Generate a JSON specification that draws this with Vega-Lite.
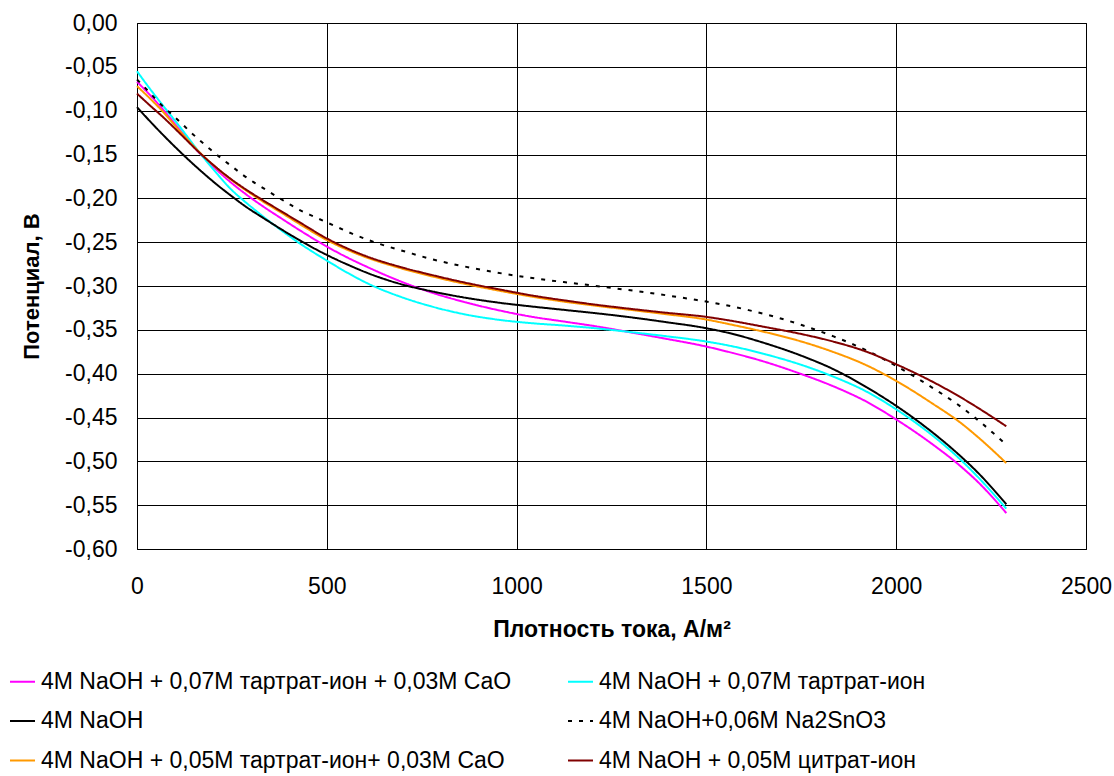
{
"$schema": "https://vega.github.io/schema/vega-lite/v6.json",
"width": 949, "height": 526,
"autosize": {"type": "none"},
"padding": {"left": 137, "top": 23, "right": 28, "bottom": 227},
"background": "#ffffff",
"config": {
  "font": "Liberation Sans",
  "locale": {"number": {"decimal": ",", "thousands": "", "grouping": [3], "currency": ["", ""], "minus": "-"}},
  "view": {"stroke": "#000000", "strokeWidth": 1}
},
"data": {"values": [
{"s":"4M NaOH + 0,07M тартрат-ион + 0,03M CaO","x":0,"v":-0.067},
{"s":"4M NaOH + 0,07M тартрат-ион + 0,03M CaO","x":34,"v":-0.082},
{"s":"4M NaOH + 0,07M тартрат-ион + 0,03M CaO","x":69,"v":-0.099},
{"s":"4M NaOH + 0,07M тартрат-ион + 0,03M CaO","x":113,"v":-0.122},
{"s":"4M NaOH + 0,07M тартрат-ион + 0,03M CaO","x":166,"v":-0.149},
{"s":"4M NaOH + 0,07M тартрат-ион + 0,03M CaO","x":210,"v":-0.1675},
{"s":"4M NaOH + 0,07M тартрат-ион + 0,03M CaO","x":245,"v":-0.181},
{"s":"4M NaOH + 0,07M тартрат-ион + 0,03M CaO","x":289,"v":-0.196},
{"s":"4M NaOH + 0,07M тартрат-ион + 0,03M CaO","x":333,"v":-0.2095},
{"s":"4M NaOH + 0,07M тартрат-ион + 0,03M CaO","x":377,"v":-0.222},
{"s":"4M NaOH + 0,07M тартрат-ион + 0,03M CaO","x":429,"v":-0.2365},
{"s":"4M NaOH + 0,07M тартрат-ион + 0,03M CaO","x":502,"v":-0.2555},
{"s":"4M NaOH + 0,07M тартрат-ион + 0,03M CaO","x":561,"v":-0.269},
{"s":"4M NaOH + 0,07M тартрат-ион + 0,03M CaO","x":605,"v":-0.278},
{"s":"4M NaOH + 0,07M тартрат-ион + 0,03M CaO","x":693,"v":-0.2945},
{"s":"4M NaOH + 0,07M тартрат-ион + 0,03M CaO","x":780,"v":-0.308},
{"s":"4M NaOH + 0,07M тартрат-ион + 0,03M CaO","x":868,"v":-0.3189},
{"s":"4M NaOH + 0,07M тартрат-ион + 0,03M CaO","x":956,"v":-0.328},
{"s":"4M NaOH + 0,07M тартрат-ион + 0,03M CaO","x":1036,"v":-0.3348},
{"s":"4M NaOH + 0,07M тартрат-ион + 0,03M CaO","x":1124,"v":-0.3405},
{"s":"4M NaOH + 0,07M тартрат-ион + 0,03M CaO","x":1212,"v":-0.3462},
{"s":"4M NaOH + 0,07M тартрат-ион + 0,03M CaO","x":1299,"v":-0.3528},
{"s":"4M NaOH + 0,07M тартрат-ион + 0,03M CaO","x":1387,"v":-0.3597},
{"s":"4M NaOH + 0,07M тартрат-ион + 0,03M CaO","x":1499,"v":-0.369},
{"s":"4M NaOH + 0,07M тартрат-ион + 0,03M CaO","x":1563,"v":-0.3757},
{"s":"4M NaOH + 0,07M тартрат-ион + 0,03M CaO","x":1651,"v":-0.3861},
{"s":"4M NaOH + 0,07M тартрат-ион + 0,03M CaO","x":1747,"v":-0.4},
{"s":"4M NaOH + 0,07M тартрат-ион + 0,03M CaO","x":1835,"v":-0.4145},
{"s":"4M NaOH + 0,07M тартрат-ион + 0,03M CaO","x":1922,"v":-0.432},
{"s":"4M NaOH + 0,07M тартрат-ион + 0,03M CaO","x":2001,"v":-0.4525},
{"s":"4M NaOH + 0,07M тартрат-ион + 0,03M CaO","x":2097,"v":-0.481},
{"s":"4M NaOH + 0,07M тартрат-ион + 0,03M CaO","x":2168,"v":-0.505},
{"s":"4M NaOH + 0,07M тартрат-ион + 0,03M CaO","x":2221,"v":-0.526},
{"s":"4M NaOH + 0,07M тартрат-ион + 0,03M CaO","x":2290,"v":-0.559},
{"s":"4M NaOH + 0,07M тартрат-ион","x":0,"v":-0.055},
{"s":"4M NaOH + 0,07M тартрат-ион","x":34,"v":-0.075},
{"s":"4M NaOH + 0,07M тартрат-ион","x":69,"v":-0.0945},
{"s":"4M NaOH + 0,07M тартрат-ион","x":113,"v":-0.1185},
{"s":"4M NaOH + 0,07M тартрат-ион","x":166,"v":-0.1485},
{"s":"4M NaOH + 0,07M тартрат-ион","x":210,"v":-0.1715},
{"s":"4M NaOH + 0,07M тартрат-ион","x":245,"v":-0.1885},
{"s":"4M NaOH + 0,07M тартрат-ион","x":289,"v":-0.2055},
{"s":"4M NaOH + 0,07M тартрат-ион","x":333,"v":-0.221},
{"s":"4M NaOH + 0,07M тартрат-ион","x":377,"v":-0.2355},
{"s":"4M NaOH + 0,07M тартрат-ион","x":429,"v":-0.2515},
{"s":"4M NaOH + 0,07M тартрат-ион","x":502,"v":-0.2715},
{"s":"4M NaOH + 0,07M тартрат-ион","x":561,"v":-0.2865},
{"s":"4M NaOH + 0,07M тартрат-ион","x":605,"v":-0.2965},
{"s":"4M NaOH + 0,07M тартрат-ион","x":693,"v":-0.3121},
{"s":"4M NaOH + 0,07M тартрат-ион","x":780,"v":-0.3238},
{"s":"4M NaOH + 0,07M тартрат-ион","x":868,"v":-0.3327},
{"s":"4M NaOH + 0,07M тартрат-ион","x":956,"v":-0.3387},
{"s":"4M NaOH + 0,07M тартрат-ион","x":1036,"v":-0.3423},
{"s":"4M NaOH + 0,07M тартрат-ион","x":1124,"v":-0.3451},
{"s":"4M NaOH + 0,07M тартрат-ион","x":1212,"v":-0.3484},
{"s":"4M NaOH + 0,07M тартрат-ион","x":1299,"v":-0.3525},
{"s":"4M NaOH + 0,07M тартрат-ион","x":1387,"v":-0.3569},
{"s":"4M NaOH + 0,07M тартрат-ион","x":1499,"v":-0.3633},
{"s":"4M NaOH + 0,07M тартрат-ион","x":1563,"v":-0.3683},
{"s":"4M NaOH + 0,07M тартрат-ион","x":1651,"v":-0.3774},
{"s":"4M NaOH + 0,07M тартрат-ион","x":1747,"v":-0.3895},
{"s":"4M NaOH + 0,07M тартрат-ион","x":1835,"v":-0.4035},
{"s":"4M NaOH + 0,07M тартрат-ион","x":1922,"v":-0.4205},
{"s":"4M NaOH + 0,07M тартрат-ион","x":2001,"v":-0.441},
{"s":"4M NaOH + 0,07M тартрат-ион","x":2097,"v":-0.471},
{"s":"4M NaOH + 0,07M тартрат-ион","x":2168,"v":-0.4975},
{"s":"4M NaOH + 0,07M тартрат-ион","x":2221,"v":-0.5205},
{"s":"4M NaOH + 0,07M тартрат-ион","x":2290,"v":-0.554},
{"s":"4M NaOH","x":0,"v":-0.096},
{"s":"4M NaOH","x":34,"v":-0.112},
{"s":"4M NaOH","x":69,"v":-0.1278},
{"s":"4M NaOH","x":113,"v":-0.1467},
{"s":"4M NaOH","x":166,"v":-0.1679},
{"s":"4M NaOH","x":210,"v":-0.1842},
{"s":"4M NaOH","x":245,"v":-0.1961},
{"s":"4M NaOH","x":289,"v":-0.2102},
{"s":"4M NaOH","x":333,"v":-0.2225},
{"s":"4M NaOH","x":377,"v":-0.2345},
{"s":"4M NaOH","x":429,"v":-0.248},
{"s":"4M NaOH","x":502,"v":-0.265},
{"s":"4M NaOH","x":561,"v":-0.2768},
{"s":"4M NaOH","x":605,"v":-0.2848},
{"s":"4M NaOH","x":693,"v":-0.2976},
{"s":"4M NaOH","x":780,"v":-0.3064},
{"s":"4M NaOH","x":868,"v":-0.3136},
{"s":"4M NaOH","x":956,"v":-0.3192},
{"s":"4M NaOH","x":1036,"v":-0.3232},
{"s":"4M NaOH","x":1124,"v":-0.3272},
{"s":"4M NaOH","x":1212,"v":-0.3312},
{"s":"4M NaOH","x":1299,"v":-0.3356},
{"s":"4M NaOH","x":1387,"v":-0.3408},
{"s":"4M NaOH","x":1499,"v":-0.3481},
{"s":"4M NaOH","x":1563,"v":-0.354},
{"s":"4M NaOH","x":1651,"v":-0.3648},
{"s":"4M NaOH","x":1747,"v":-0.379},
{"s":"4M NaOH","x":1835,"v":-0.395},
{"s":"4M NaOH","x":1922,"v":-0.4155},
{"s":"4M NaOH","x":2001,"v":-0.437},
{"s":"4M NaOH","x":2097,"v":-0.4675},
{"s":"4M NaOH","x":2168,"v":-0.4935},
{"s":"4M NaOH","x":2221,"v":-0.5155},
{"s":"4M NaOH","x":2290,"v":-0.549},
{"s":"4M NaOH+0,06M Na2SnO3","x":0,"v":-0.0645},
{"s":"4M NaOH+0,06M Na2SnO3","x":29,"v":-0.0774},
{"s":"4M NaOH+0,06M Na2SnO3","x":55,"v":-0.0895},
{"s":"4M NaOH+0,06M Na2SnO3","x":84,"v":-0.1013},
{"s":"4M NaOH+0,06M Na2SnO3","x":113,"v":-0.1127},
{"s":"4M NaOH+0,06M Na2SnO3","x":138,"v":-0.1232},
{"s":"4M NaOH+0,06M Na2SnO3","x":166,"v":-0.1341},
{"s":"4M NaOH+0,06M Na2SnO3","x":193,"v":-0.1441},
{"s":"4M NaOH+0,06M Na2SnO3","x":219,"v":-0.1533},
{"s":"4M NaOH+0,06M Na2SnO3","x":250,"v":-0.1636},
{"s":"4M NaOH+0,06M Na2SnO3","x":276,"v":-0.1723},
{"s":"4M NaOH+0,06M Na2SnO3","x":307,"v":-0.1815},
{"s":"4M NaOH+0,06M Na2SnO3","x":338,"v":-0.1898},
{"s":"4M NaOH+0,06M Na2SnO3","x":369,"v":-0.1982},
{"s":"4M NaOH+0,06M Na2SnO3","x":399,"v":-0.206},
{"s":"4M NaOH+0,06M Na2SnO3","x":429,"v":-0.2135},
{"s":"4M NaOH+0,06M Na2SnO3","x":468,"v":-0.2212},
{"s":"4M NaOH+0,06M Na2SnO3","x":502,"v":-0.2278},
{"s":"4M NaOH+0,06M Na2SnO3","x":568,"v":-0.2405},
{"s":"4M NaOH+0,06M Na2SnO3","x":605,"v":-0.2468},
{"s":"4M NaOH+0,06M Na2SnO3","x":640,"v":-0.2521},
{"s":"4M NaOH+0,06M Na2SnO3","x":710,"v":-0.2612},
{"s":"4M NaOH+0,06M Na2SnO3","x":780,"v":-0.2698},
{"s":"4M NaOH+0,06M Na2SnO3","x":850,"v":-0.2766},
{"s":"4M NaOH+0,06M Na2SnO3","x":916,"v":-0.2822},
{"s":"4M NaOH+0,06M Na2SnO3","x":986,"v":-0.2874},
{"s":"4M NaOH+0,06M Na2SnO3","x":1058,"v":-0.2919},
{"s":"4M NaOH+0,06M Na2SnO3","x":1124,"v":-0.2955},
{"s":"4M NaOH+0,06M Na2SnO3","x":1194,"v":-0.2991},
{"s":"4M NaOH+0,06M Na2SnO3","x":1264,"v":-0.3029},
{"s":"4M NaOH+0,06M Na2SnO3","x":1335,"v":-0.3069},
{"s":"4M NaOH+0,06M Na2SnO3","x":1405,"v":-0.3113},
{"s":"4M NaOH+0,06M Na2SnO3","x":1475,"v":-0.316},
{"s":"4M NaOH+0,06M Na2SnO3","x":1541,"v":-0.321},
{"s":"4M NaOH+0,06M Na2SnO3","x":1611,"v":-0.3275},
{"s":"4M NaOH+0,06M Na2SnO3","x":1681,"v":-0.3352},
{"s":"4M NaOH+0,06M Na2SnO3","x":1751,"v":-0.3445},
{"s":"4M NaOH+0,06M Na2SnO3","x":1835,"v":-0.3575},
{"s":"4M NaOH+0,06M Na2SnO3","x":1922,"v":-0.3735},
{"s":"4M NaOH+0,06M Na2SnO3","x":2001,"v":-0.3915},
{"s":"4M NaOH+0,06M Na2SnO3","x":2097,"v":-0.4165},
{"s":"4M NaOH+0,06M Na2SnO3","x":2168,"v":-0.437},
{"s":"4M NaOH+0,06M Na2SnO3","x":2221,"v":-0.455},
{"s":"4M NaOH+0,06M Na2SnO3","x":2290,"v":-0.481},
{"s":"4M NaOH + 0,05M тартрат-ион+ 0,03M CaO","x":0,"v":-0.072},
{"s":"4M NaOH + 0,05M тартрат-ион+ 0,03M CaO","x":34,"v":-0.086},
{"s":"4M NaOH + 0,05M тартрат-ион+ 0,03M CaO","x":69,"v":-0.1015},
{"s":"4M NaOH + 0,05M тартрат-ион+ 0,03M CaO","x":113,"v":-0.1235},
{"s":"4M NaOH + 0,05M тартрат-ион+ 0,03M CaO","x":166,"v":-0.148},
{"s":"4M NaOH + 0,05M тартрат-ион+ 0,03M CaO","x":210,"v":-0.1655},
{"s":"4M NaOH + 0,05M тартрат-ион+ 0,03M CaO","x":245,"v":-0.1778},
{"s":"4M NaOH + 0,05M тартрат-ион+ 0,03M CaO","x":289,"v":-0.1915},
{"s":"4M NaOH + 0,05M тартрат-ион+ 0,03M CaO","x":333,"v":-0.204},
{"s":"4M NaOH + 0,05M тартрат-ион+ 0,03M CaO","x":377,"v":-0.2155},
{"s":"4M NaOH + 0,05M тартрат-ион+ 0,03M CaO","x":429,"v":-0.2295},
{"s":"4M NaOH + 0,05M тартрат-ион+ 0,03M CaO","x":502,"v":-0.248},
{"s":"4M NaOH + 0,05M тартрат-ион+ 0,03M CaO","x":561,"v":-0.26},
{"s":"4M NaOH + 0,05M тартрат-ион+ 0,03M CaO","x":605,"v":-0.2675},
{"s":"4M NaOH + 0,05M тартрат-ион+ 0,03M CaO","x":693,"v":-0.2795},
{"s":"4M NaOH + 0,05M тартрат-ион+ 0,03M CaO","x":780,"v":-0.2893},
{"s":"4M NaOH + 0,05M тартрат-ион+ 0,03M CaO","x":868,"v":-0.298},
{"s":"4M NaOH + 0,05M тартрат-ион+ 0,03M CaO","x":956,"v":-0.3055},
{"s":"4M NaOH + 0,05M тартрат-ион+ 0,03M CaO","x":1036,"v":-0.3118},
{"s":"4M NaOH + 0,05M тартрат-ион+ 0,03M CaO","x":1124,"v":-0.3178},
{"s":"4M NaOH + 0,05M тартрат-ион+ 0,03M CaO","x":1212,"v":-0.3227},
{"s":"4M NaOH + 0,05M тартрат-ион+ 0,03M CaO","x":1299,"v":-0.3272},
{"s":"4M NaOH + 0,05M тартрат-ион+ 0,03M CaO","x":1387,"v":-0.3318},
{"s":"4M NaOH + 0,05M тартрат-ион+ 0,03M CaO","x":1499,"v":-0.3382},
{"s":"4M NaOH + 0,05M тартрат-ион+ 0,03M CaO","x":1563,"v":-0.3438},
{"s":"4M NaOH + 0,05M тартрат-ион+ 0,03M CaO","x":1651,"v":-0.3522},
{"s":"4M NaOH + 0,05M тартрат-ион+ 0,03M CaO","x":1738,"v":-0.3618},
{"s":"4M NaOH + 0,05M тартрат-ион+ 0,03M CaO","x":1826,"v":-0.374},
{"s":"4M NaOH + 0,05M тартрат-ион+ 0,03M CaO","x":1922,"v":-0.3905},
{"s":"4M NaOH + 0,05M тартрат-ион+ 0,03M CaO","x":2001,"v":-0.4085},
{"s":"4M NaOH + 0,05M тартрат-ион+ 0,03M CaO","x":2097,"v":-0.4345},
{"s":"4M NaOH + 0,05M тартрат-ион+ 0,03M CaO","x":2168,"v":-0.4555},
{"s":"4M NaOH + 0,05M тартрат-ион+ 0,03M CaO","x":2221,"v":-0.4745},
{"s":"4M NaOH + 0,05M тартрат-ион+ 0,03M CaO","x":2290,"v":-0.502},
{"s":"4M NaOH + 0,05M цитрат-ион","x":0,"v":-0.0805},
{"s":"4M NaOH + 0,05M цитрат-ион","x":34,"v":-0.094},
{"s":"4M NaOH + 0,05M цитрат-ион","x":69,"v":-0.1075},
{"s":"4M NaOH + 0,05M цитрат-ион","x":113,"v":-0.126},
{"s":"4M NaOH + 0,05M цитрат-ион","x":166,"v":-0.1485},
{"s":"4M NaOH + 0,05M цитрат-ион","x":210,"v":-0.1652},
{"s":"4M NaOH + 0,05M цитрат-ион","x":245,"v":-0.1772},
{"s":"4M NaOH + 0,05M цитрат-ион","x":289,"v":-0.1905},
{"s":"4M NaOH + 0,05M цитрат-ион","x":333,"v":-0.2025},
{"s":"4M NaOH + 0,05M цитрат-ион","x":377,"v":-0.214},
{"s":"4M NaOH + 0,05M цитрат-ион","x":429,"v":-0.2275},
{"s":"4M NaOH + 0,05M цитрат-ион","x":502,"v":-0.2462},
{"s":"4M NaOH + 0,05M цитрат-ион","x":561,"v":-0.2585},
{"s":"4M NaOH + 0,05M цитрат-ион","x":605,"v":-0.2662},
{"s":"4M NaOH + 0,05M цитрат-ион","x":693,"v":-0.2782},
{"s":"4M NaOH + 0,05M цитрат-ион","x":780,"v":-0.2878},
{"s":"4M NaOH + 0,05M цитрат-ион","x":868,"v":-0.2965},
{"s":"4M NaOH + 0,05M цитрат-ион","x":956,"v":-0.304},
{"s":"4M NaOH + 0,05M цитрат-ион","x":1036,"v":-0.3105},
{"s":"4M NaOH + 0,05M цитрат-ион","x":1124,"v":-0.3163},
{"s":"4M NaOH + 0,05M цитрат-ион","x":1212,"v":-0.3215},
{"s":"4M NaOH + 0,05M цитрат-ион","x":1299,"v":-0.326},
{"s":"4M NaOH + 0,05M цитрат-ион","x":1387,"v":-0.3302},
{"s":"4M NaOH + 0,05M цитрат-ион","x":1499,"v":-0.3352},
{"s":"4M NaOH + 0,05M цитрат-ион","x":1563,"v":-0.3395},
{"s":"4M NaOH + 0,05M цитрат-ион","x":1651,"v":-0.3465},
{"s":"4M NaOH + 0,05M цитрат-ион","x":1747,"v":-0.3545},
{"s":"4M NaOH + 0,05M цитрат-ион","x":1835,"v":-0.3635},
{"s":"4M NaOH + 0,05M цитрат-ион","x":1922,"v":-0.375},
{"s":"4M NaOH + 0,05M цитрат-ион","x":2001,"v":-0.3895},
{"s":"4M NaOH + 0,05M цитрат-ион","x":2097,"v":-0.4095},
{"s":"4M NaOH + 0,05M цитрат-ион","x":2168,"v":-0.4265},
{"s":"4M NaOH + 0,05M цитрат-ион","x":2221,"v":-0.4405},
{"s":"4M NaOH + 0,05M цитрат-ион","x":2290,"v":-0.46}
]},
"mark": {"type": "line", "strokeWidth": 2, "interpolate": "monotone"},
"encoding": {
  "x": {"field": "x", "type": "quantitative",
    "scale": {"domain": [0, 2500], "nice": false, "zero": false},
    "axis": {"title": "Плотность тока, А/м²", "values": [0, 500, 1000, 1500, 2000, 2500], "format": "d",
      "grid": true, "gridColor": "#000000", "gridOpacity": 1, "gridWidth": 1, "domain": false, "ticks": false, "tickSize": 0,
      "labelPadding": 26, "labelFontSize": 23, "labelColor": "#000000", "labelFlush": false, "labelFont": "Liberation Sans",
      "titleFontSize": 23, "titleFontWeight": "bold", "titleColor": "#000000", "titlePadding": 20, "titleFont": "Liberation Sans"}},
  "y": {"field": "v", "type": "quantitative",
    "scale": {"domain": [-0.6, 0], "nice": false, "zero": false},
    "axis": {"title": "Потенциал, В", "values": [0, -0.05, -0.1, -0.15, -0.2, -0.25, -0.3, -0.35, -0.4, -0.45, -0.5, -0.55, -0.6], "format": ".2f",
      "grid": true, "gridColor": "#000000", "gridOpacity": 1, "gridWidth": 1, "domain": false, "ticks": false, "tickSize": 0,
      "labelPadding": 20, "labelFontSize": 23, "labelColor": "#000000", "labelFlush": false, "labelFont": "Liberation Sans",
      "titleFontSize": 22, "titleFontWeight": "bold", "titleColor": "#000000", "titlePadding": 21, "titleFont": "Liberation Sans"}},
  "color": {"field": "s", "type": "nominal",
    "scale": {"domain": ["4M NaOH + 0,07M тартрат-ион + 0,03M CaO", "4M NaOH + 0,07M тартрат-ион", "4M NaOH", "4M NaOH+0,06M Na2SnO3", "4M NaOH + 0,05M тартрат-ион+ 0,03M CaO", "4M NaOH + 0,05M цитрат-ион"],
      "range": ["#FF00FF", "#00FFFF", "#000000", "#000000", "#FF9900", "#800000"]},
    "legend": {"orient": "none", "legendX": -128, "legendY": 645, "direction": "horizontal", "columns": 2, "title": null,
      "symbolType": "stroke", "symbolSize": 625, "symbolStrokeWidth": 2, "labelFontSize": 23, "labelColor": "#000000", "labelFont": "Liberation Sans",
      "labelOffset": 5, "columnPadding": 52, "rowPadding": 13.5, "labelLimit": 0, "padding": 0}},
  "strokeDash": {"field": "s", "type": "nominal",
    "scale": {"domain": ["4M NaOH + 0,07M тартрат-ион + 0,03M CaO", "4M NaOH + 0,07M тартрат-ион", "4M NaOH", "4M NaOH+0,06M Na2SnO3", "4M NaOH + 0,05M тартрат-ион+ 0,03M CaO", "4M NaOH + 0,05M цитрат-ион"],
      "range": [[1, 0], [1, 0], [1, 0], [4, 7], [1, 0], [1, 0]]},
    "legend": {"orient": "none", "legendX": -128, "legendY": 645, "direction": "horizontal", "columns": 2, "title": null,
      "symbolType": "stroke", "symbolSize": 625, "symbolStrokeWidth": 2, "labelFontSize": 23, "labelColor": "#000000", "labelFont": "Liberation Sans",
      "labelOffset": 5, "columnPadding": 52, "rowPadding": 13.5, "labelLimit": 0, "padding": 0}}
}
}
